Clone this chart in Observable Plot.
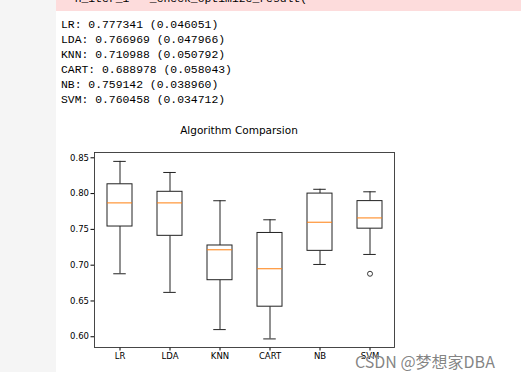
<!DOCTYPE html>
<html>
<head>
<meta charset="utf-8">
<script src="https://cdn.jsdelivr.net/npm/d3@7"></script>
<script src="https://cdn.jsdelivr.net/npm/@observablehq/plot@0.6"></script>
<style>
  html, body { margin: 0; padding: 0; background: #fff; }
  #page { position: relative; width: 521px; height: 378px; overflow: hidden; background: #fff; }
  #gray { position: absolute; left: 0; top: 0; width: 56px; height: 372px; background: #f5f5f5; }
  #pink { position: absolute; left: 56px; top: 0; width: 465px; height: 11px; background: #fddcdc; overflow: hidden; }
  #pink span { position: absolute; left: 5px; top: -7px; font: 11.4px "Liberation Mono", monospace; white-space: pre; color: #000; }
  #out { position: absolute; left: 61px; top: 18px; font: 11.4px "Liberation Mono", monospace; line-height: 15px; white-space: pre; color: #000; }
  #title { position: absolute; left: 0; width: 478px; top: 124px; text-align: center; font: 10.5px "DejaVu Sans", sans-serif; color: #000; }
  #chart { position: absolute; left: 56px; top: 140px; }
  #wm { position: absolute; left: 355px; top: 349px; font: 16px "Noto Sans CJK SC", "DejaVu Sans", sans-serif; color: rgba(110,110,110,0.85); white-space: pre; text-shadow: 0 0 1px #fff; }
</style>
</head>
<body>
<div id="page">
  <div id="gray"></div>
  <div id="pink"><span>  n_iter_i = _check_optimize_result(</span></div>
  <div id="out"></div>
  <div id="title">Algorithm Comparsion</div>
  <div id="chart"></div>
  <div id="wm">CSDN @梦想家DBA</div>
</div>
<script>
// Printed results
const resultNames = ["LR", "LDA", "KNN", "CART", "NB", "SVM"];
const resultMeans = ["0.777341", "0.766969", "0.710988", "0.688978", "0.759142", "0.760458"];
const resultStds  = ["0.046051", "0.047966", "0.050792", "0.058043", "0.038960", "0.034712"];

// Box plot summary values
const categories  = ["LR", "LDA", "KNN", "CART", "NB", "SVM"];
const whiskerLow  = [0.688, 0.662, 0.610, 0.597, 0.701, 0.715];
const q1          = [0.754, 0.741, 0.679, 0.642, 0.720, 0.751];
const median      = [0.787, 0.787, 0.7215, 0.695, 0.760, 0.766];
const q3          = [0.813, 0.8025, 0.7275, 0.745, 0.800, 0.7895];
const whiskerHigh = [0.845, 0.8295, 0.790, 0.7634, 0.806, 0.8025];
const outlierNames  = ["SVM"];
const outlierValues = [0.688];
const yTicks = [0.60, 0.65, 0.70, 0.75, 0.80, 0.85];

document.getElementById("out").textContent = resultNames
  .map((n, i) => `${n}: ${resultMeans[i]} (${resultStds[i]})`).join("\n");

const boxes = categories.map((c, i) => ({
  name: c, lo: whiskerLow[i], q1: q1[i], med: median[i], q3: q3[i], hi: whiskerHigh[i]
}));
const outliers = outlierNames.map((n, i) => ({name: n, value: outlierValues[i]}));

const plot = Plot.plot({
  width: 360,
  height: 230,
  marginLeft: 38,
  marginRight: 22,
  marginTop: 12,
  marginBottom: 23,
  style: {fontFamily: "DejaVu Sans, sans-serif", fontSize: "8.5px", color: "#000", background: "transparent", overflow: "visible"},
  x: {domain: categories, paddingInner: 0.5, paddingOuter: 0.25, label: null, tickSize: 3.5, tickPadding: 2},
  y: {domain: [0.585, 0.8574], ticks: yTicks, tickFormat: d3.format(".2f"), label: null, tickSize: 3.5, tickPadding: 2},
  marks: [
    Plot.ruleX(boxes, {x: "name", y1: "lo", y2: "q1", stroke: "#222", strokeWidth: 1}),
    Plot.ruleX(boxes, {x: "name", y1: "q3", y2: "hi", stroke: "#222", strokeWidth: 1}),
    Plot.tickY(boxes, {x: "name", y: "lo", stroke: "#222", strokeWidth: 1, insetLeft: 6.25, insetRight: 6.25}),
    Plot.tickY(boxes, {x: "name", y: "hi", stroke: "#222", strokeWidth: 1, insetLeft: 6.25, insetRight: 6.25}),
    Plot.barY(boxes, {x: "name", y1: "q1", y2: "q3", fill: "white", stroke: "#222", strokeWidth: 1}),
    Plot.tickY(boxes, {x: "name", y: "med", stroke: "#ff7f0e", strokeWidth: 1}),
    Plot.dot(outliers, {x: "name", y: "value", r: 2.5, stroke: "#222", fill: "none", strokeWidth: 0.9}),
    Plot.frame({stroke: "#333", strokeWidth: 0.9})
  ]
});
document.getElementById("chart").appendChild(plot);
</script>
</body>
</html>
